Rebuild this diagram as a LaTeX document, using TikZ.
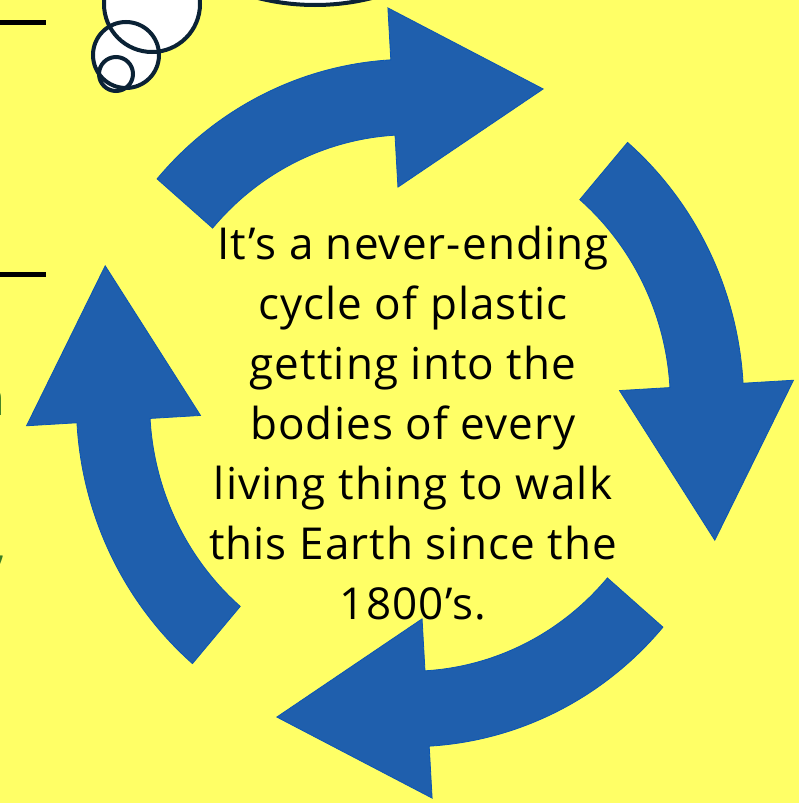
\documentclass[tikz,border=0pt]{standalone}
\usepackage{fontspec}
\setmainfont{Open Sans}[LetterSpace=2.5]
\usetikzlibrary{positioning}

\definecolor{bgyellow}{HTML}{FFFF66}
\definecolor{arrowblue}{HTML}{1F5FAD}
\definecolor{arrowedge}{HTML}{0B56B4}
\definecolor{bubbleline}{HTML}{0B2235}
\definecolor{leafgreen}{HTML}{3B7D23}

\begin{document}
\begin{tikzpicture}[
  x=1pt, y=-1pt,
  arrowfill/.style={fill=arrowblue, draw=arrowedge, line width=0.8pt, line join=miter},
  bubble/.style={fill=white, draw=bubbleline, line width=4pt},
  rule/.style={draw=black, line width=5pt},
  edgeletter/.style={text=leafgreen, font=\fontsize{48}{48}\selectfont\bfseries, inner sep=0pt}
]
  % page and background
  \fill[bgyellow] (0,0) rectangle (799,803);
  \useasboundingbox (0,0) rectangle (799,803);

  % left margin rules and cut-off letters
  \draw[rule] (0,22.5) coordinate (r1a) -- (46,22.5) coordinate (r1b);
  \draw[rule] (0,274.5) coordinate (r2a) -- (46,274.5) coordinate (r2b);
  \node[edgeletter, anchor=base east] (ltrn) at (5,415) {n};
  \node[edgeletter, anchor=north east] (ltrc) at (7,556) {,};

  % thought bubbles
  \fill[white] (315,-228) circle (233);
  \fill[white] (152,4) circle (48);
  \fill[white] (126,55) circle (33);
  \fill[white] (116,74) circle (17);
  \draw[bubble, fill=none] (315,-228) circle (233);
  \draw[bubble, fill=none] (152,4) circle (48);
  \draw[bubble, fill=none] (126,55) circle (33);
  \draw[bubble, fill=none] (116,74) circle (17);

  % four curved arrows of the cycle
  \begin{scope}[shift={(410,403)}, xscale=0.99, yscale=1.02]
    \foreach \tailang in {139.3, 49.3, -40.7, 229.3} {
      \pgfmathsetmacro{\headang}{\tailang-46}
      \pgfmathsetmacro{\tipang}{\tailang-46-26.9}
      \path[arrowfill] (\tailang:337pt) arc[start angle=\tailang, end angle=\headang, radius=337pt]
        -- (\headang:388pt) -- (\tipang:336pt) -- (\headang:212pt)
        -- (\headang:263pt) arc[start angle=\headang, end angle=\tailang, radius=263pt] -- cycle;
    }
  \end{scope}

  % centre text
  \node[align=center, font=\fontsize{44}{60}\selectfont, inner sep=0pt] (cycletext) at (413,423)
    {It’s a never-ending\\cycle of plastic\\getting into the\\bodies of every\\living thing to walk\\this Earth since the\\1800’s.};
\end{tikzpicture}
\end{document}
